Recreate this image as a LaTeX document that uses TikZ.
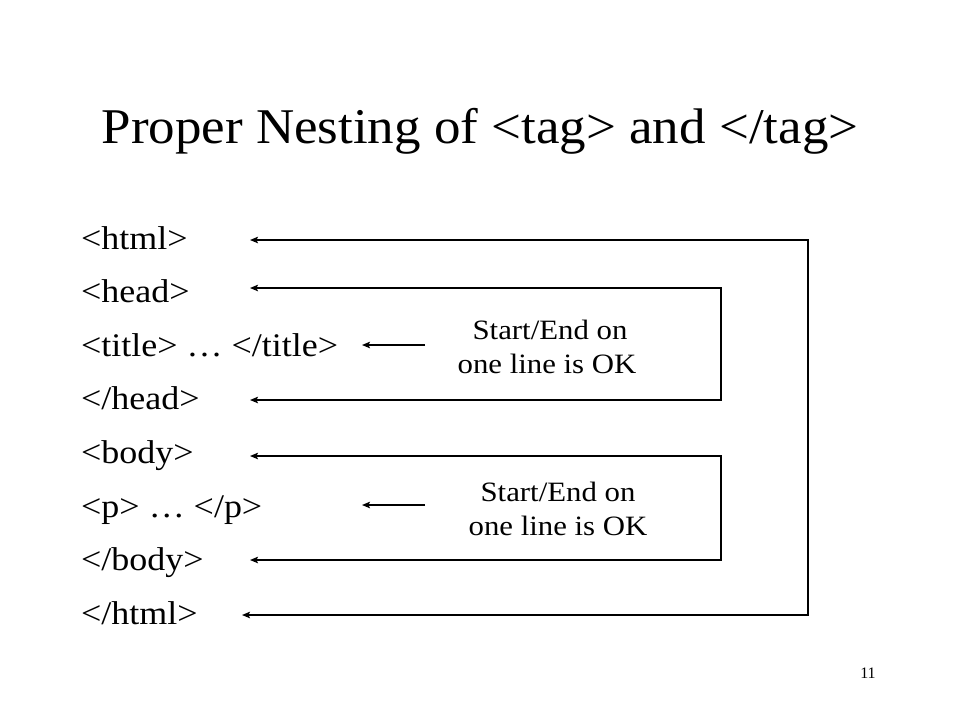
\documentclass[tikz,border=0pt]{standalone}
\usepackage{fontspec}
\setmainfont{Liberation Serif}
\newfontfamily\titlefont{Liberation Serif}[FakeStretch=1.06]
\newfontfamily\itemfont{Liberation Serif}[FakeStretch=1.09]
\newfontfamily\lblfont{Liberation Serif}[FakeStretch=1.1]
\usetikzlibrary{arrows.meta}
\begin{document}
\begin{tikzpicture}[x=1pt,y=-1pt,
  item/.style={anchor=base west,inner sep=0pt,font=\itemfont\fontsize{33}{36}\selectfont},
  lbl/.style={inner sep=0pt,font=\lblfont\fontsize{28}{34}\selectfont,anchor=base},
  conn/.style={line width=1.3pt},
  tip/.style={-{Stealth[length=8pt,width=6.5pt,inset=1.5pt]}},
  both/.style={{Stealth[length=8pt,width=6.5pt,inset=1.5pt]}-{Stealth[length=8pt,width=6.5pt,inset=1.5pt]}}]
\useasboundingbox[fill=white] (0,0) rectangle (960,720);
% title
\node[anchor=base,inner sep=0pt,font=\titlefont\fontsize{50}{56}\selectfont] (title) at (480,143) {Proper Nesting of <tag> and </tag>};
% items
\node[item] (t1) at (81,249) {<html>};
\node[item] (t2) at (81,302.6) {<head>};
\node[item] (t3) at (81,356.2) {<title> … </title>};
\node[item] (t4) at (81,409.8) {</head>};
\node[item] (t5) at (81,463.4) {<body>};
\node[item] (t6) at (81,517) {<p> … </p>};
\node[item] (t7) at (81,570.6) {</body>};
\node[item] (t8) at (81,624.2) {</html>};
% labels
\node[lbl] (l1a) at (550,339) {Start/End on};
\node[lbl] (l1b) at (547,373) {one line is OK};
\node[lbl] (l2a) at (558,501) {Start/End on};
\node[lbl] (l2b) at (558,535) {one line is OK};
% arrow end points
\coordinate (a1) at (250,240);
\coordinate (a2) at (250,288);
\coordinate (a4) at (250,400);
\coordinate (a5) at (250,456);
\coordinate (a7) at (250,560);
\coordinate (a8) at (242,615);
\coordinate (o1) at (808,240);
\coordinate (o2) at (808,615);
\coordinate (h1) at (721,288);
\coordinate (h2) at (721,400);
\coordinate (b1) at (721,456);
\coordinate (b2) at (721,560);
\coordinate (s1) at (425,345);
\coordinate (s1e) at (362,345);
\coordinate (s2) at (425,505);
\coordinate (s2e) at (362,505);
% connectors
\draw[conn,both] (a1) -- (o1) -- (o2) -- (a8);
\draw[conn,both] (a2) -- (h1) -- (h2) -- (a4);
\draw[conn,both] (a5) -- (b1) -- (b2) -- (a7);
\draw[conn,tip] (s1) -- (s1e);
\draw[conn,tip] (s2) -- (s2e);
% page number
\node[anchor=base,inner sep=0pt,font=\fontsize{16}{18}\selectfont] (pg) at (868,678) {11};
\end{tikzpicture}
\end{document}
